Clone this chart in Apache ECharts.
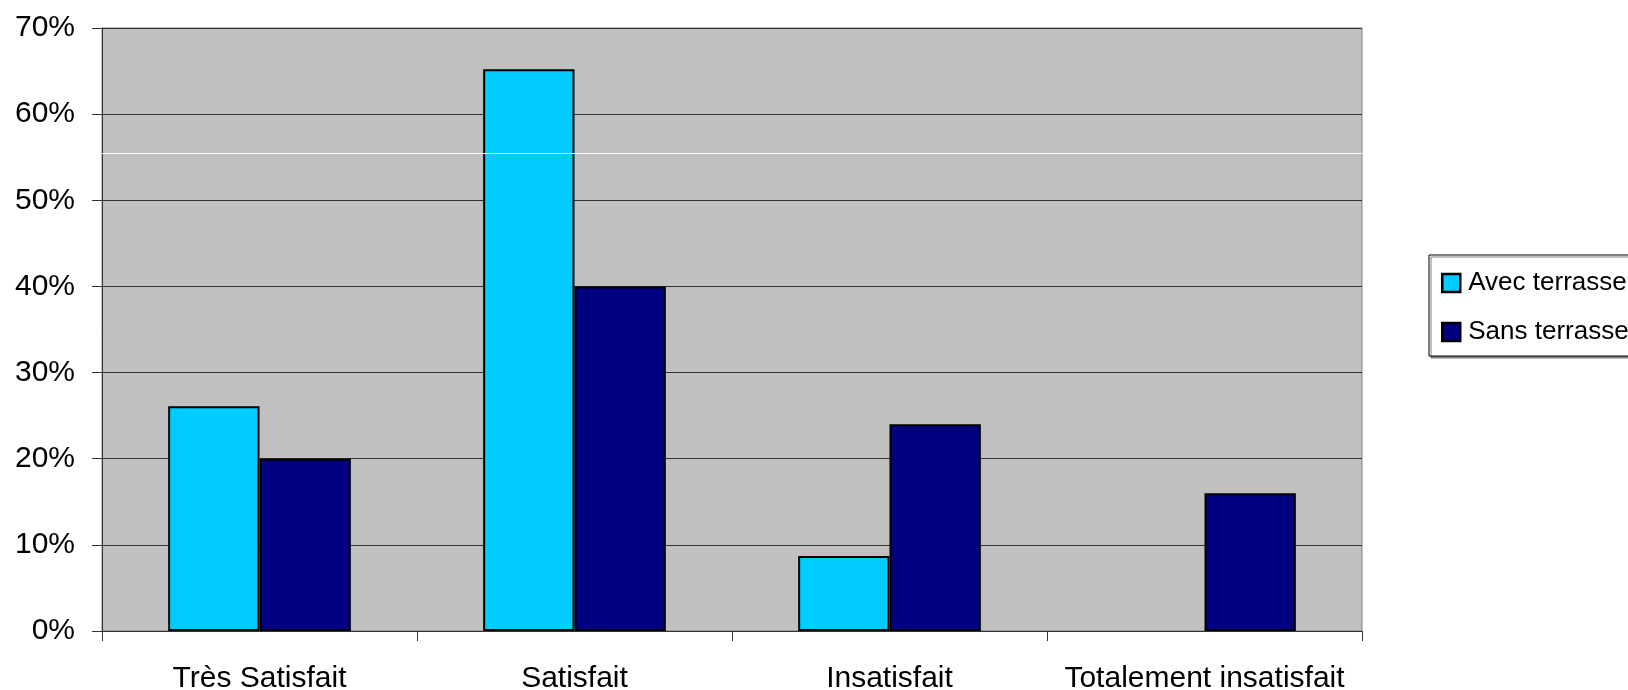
<!DOCTYPE html>
<html>
<head>
<meta charset="utf-8">
<script src="https://cdn.jsdelivr.net/npm/echarts@6/dist/echarts.min.js"></script>
<style>
  html, body { margin: 0; padding: 0; background: #fff; }
  #main { width: 1628px; height: 690px; }
</style>
</head>
<body>
<div id="main"></div>
<script>
// données
var categories = ["Très Satisfait", "Satisfait", "Insatisfait", "Totalement insatisfait"];
var avecTerrasse = [26.1, 65.2, 8.7, 0];
var sansTerrasse = [20, 40, 24, 16];
var seriesNames = ["Avec terrasse", "Sans terrasse"];
// ligne blanche parasite visible sur l'original
var whiteLine = [55.5];

// les barres à 0 ne sont pas dessinées sur l'original
function noZero(arr) {
    return arr.map(function (v) { return v === 0 ? "-" : v; });
}

var myChart = echarts.init(document.getElementById("main"));

var option = {
    backgroundColor: "#ffffff",
    animation: false,
    textStyle: { fontFamily: "Liberation Sans, Arial, sans-serif" },
    grid: {
        left: 102,
        right: 266,
        top: 28,
        bottom: 59,
        outerBoundsMode: "none",
        show: true,
        backgroundColor: "#c0c0c0",
        borderColor: "#808080",
        borderWidth: 1
    },
    legend: {
        orient: "vertical",
        left: 1429,
        top: 255,
        data: seriesNames,
        icon: "rect",
        itemWidth: 18,
        itemHeight: 18,
        itemGap: 19,
        padding: [13, 60, 9, 12],
        backgroundColor: "#ffffff",
        borderColor: "#000000",
        borderWidth: 1,
        borderRadius: 0,
        shadowColor: "#808080",
        shadowOffsetX: 2,
        shadowOffsetY: 2,
        shadowBlur: 0,
        itemStyle: { borderColor: "#000000", borderWidth: 2.5 },
        textStyle: {
            fontFamily: "Liberation Sans, Arial, sans-serif",
            fontSize: 26,
            lineHeight: 30,
            color: "#000000",
            padding: [0, 0, 0, 3]
        }
    },
    xAxis: {
        type: "category",
        data: categories,
        axisLine: { show: true, lineStyle: { color: "#333333", width: 1 } },
        axisTick: { show: true, interval: 0, length: 10, lineStyle: { color: "#333333" } },
        axisLabel: { color: "#000000", fontSize: 30, margin: 33, interval: 0 },
        splitLine: { show: false }
    },
    yAxis: {
        type: "value",
        min: 0,
        max: 70,
        interval: 10,
        axisLine: { show: true, lineStyle: { color: "#333333", width: 1 } },
        axisTick: { show: true, length: 10, lineStyle: { color: "#333333" } },
        axisLabel: { color: "#000000", fontSize: 30, margin: 27, formatter: "{value}%" },
        splitLine: { show: true, lineStyle: { color: "#333333", width: 1 } }
    },
    series: [
        {
            type: "line",
            data: [],
            z: 1,
            silent: true,
            markLine: {
                silent: true,
                symbol: "none",
                label: { show: false },
                lineStyle: { color: "#ffffff", width: 1, type: "solid" },
                data: whiteLine.map(function (v) { return { yAxis: v }; })
            }
        },
        {
            name: seriesNames[0],
            type: "bar",
            data: noZero(avecTerrasse),
            z: 3,
            barWidth: "29%",
            barGap: "0%",
            itemStyle: { color: "#00ccff", borderColor: "#000000", borderWidth: 2 }
        },
        {
            name: seriesNames[1],
            type: "bar",
            data: noZero(sansTerrasse),
            z: 3,
            barWidth: "29%",
            barGap: "0%",
            itemStyle: { color: "#000080", borderColor: "#000000", borderWidth: 2 }
        }
    ]
};

myChart.setOption(option);
</script>
</body>
</html>
